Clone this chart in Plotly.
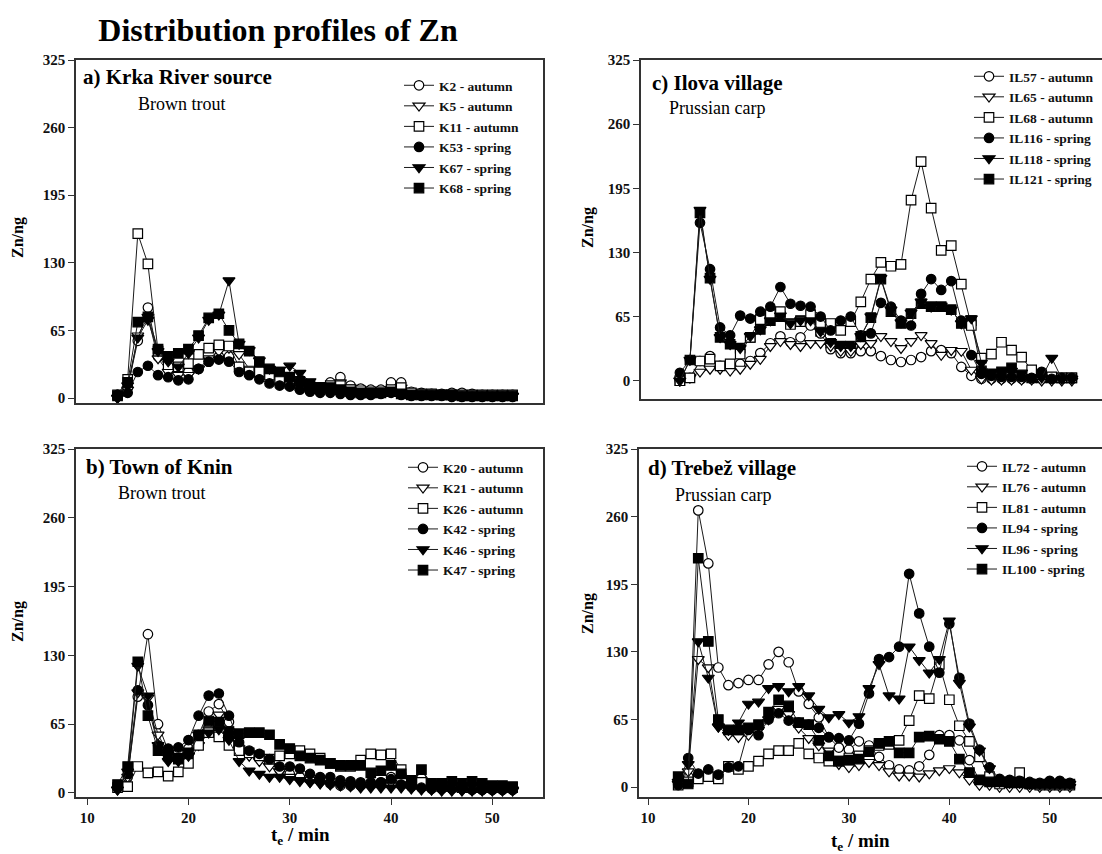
import plotly.graph_objects as go

W, H = 1102, 854
FONT = "Liberation Serif"

# ---------------- data ----------------
te_min = [13, 14, 15, 16, 17, 18, 19, 20, 21, 22, 23, 24, 25, 26, 27, 28, 29, 30, 31, 32,
          33, 34, 35, 36, 37, 38, 39, 40, 41, 42, 43, 44, 45, 46, 47, 48, 49, 50, 51, 52]
y_ticks = [0, 65, 130, 195, 260, 325]
x_ticks = [10, 20, 30, 40, 50]

# a) Krka River source - Brown trout
K2_autumn = [3, 10, 55, 87, 40, 28, 25, 25, 28, 35, 40, 40, 30, 25, 25, 22, 18, 15, 12, 10,
             10, 15, 20, 12, 9, 8, 8, 15, 15, 6, 5, 4, 4, 5, 5, 4, 3, 3, 3, 3]
K5_autumn = [0, 8, 60, 78, 38, 25, 22, 22, 28, 38, 45, 48, 42, 28, 25, 25, 20, 15, 12, 10,
             10, 12, 15, 10, 8, 6, 6, 8, 10, 5, 4, 3, 3, 3, 3, 3, 2, 2, 2, 2]
K11_autumn = [3, 18, 158, 129, 45, 32, 30, 33, 42, 48, 51, 50, 30, 25, 25, 22, 18, 14, 12, 10,
              10, 12, 12, 8, 7, 6, 6, 8, 10, 5, 4, 4, 3, 3, 3, 3, 3, 3, 3, 3]
K53_spring = [3, 5, 25, 31, 22, 20, 17, 18, 28, 35, 37, 35, 25, 22, 18, 14, 12, 11, 8, 6,
              5, 5, 4, 3, 3, 3, 4, 5, 3, 2, 2, 2, 2, 1, 1, 1, 1, 1, 1, 1]
K67_spring = [0, 12, 58, 75, 45, 35, 30, 43, 58, 75, 80, 113, 52, 46, 36, 28, 27, 31, 24, 16,
              12, 10, 8, 7, 6, 6, 6, 6, 5, 4, 3, 3, 3, 2, 2, 2, 2, 2, 2, 2]
K68_spring = [2, 15, 73, 78, 47, 40, 43, 47, 60, 77, 81, 65, 52, 45, 35, 28, 25, 20, 16, 12,
              10, 10, 8, 6, 5, 5, 5, 6, 4, 3, 3, 3, 3, 3, 2, 2, 2, 2, 2, 2]

# b) Town of Knin - Brown trout
K20_autumn = [5, 15, 91, 150, 65, 40, 38, 42, 55, 77, 84, 67, 45, 38, 33, 28, 22, 18, 15, 13,
              11, 9, 7, 7, 7, 8, 10, 15, 18, 12, 14, 5, 4, 4, 4, 4, 3, 3, 3, 3]
K21_autumn = [3, 15, 95, 90, 55, 38, 35, 35, 45, 60, 74, 55, 42, 35, 30, 25, 20, 15, 12, 10,
              9, 8, 7, 7, 7, 7, 8, 10, 8, 5, 4, 3, 3, 3, 3, 3, 3, 3, 3, 3]
K26_autumn = [5, 6, 25, 19, 20, 16, 20, 28, 45, 57, 53, 45, 40, 38, 35, 32, 35, 37, 40, 37,
              33, 28, 25, 25, 31, 37, 36, 37, 22, 12, 10, 7, 6, 6, 5, 5, 5, 5, 5, 5]
K42_spring = [5, 18, 97, 83, 45, 42, 43, 50, 73, 92, 94, 73, 48, 40, 37, 32, 25, 25, 23, 18,
              15, 15, 12, 11, 10, 10, 10, 13, 8, 6, 5, 4, 4, 4, 4, 3, 3, 3, 3, 3]
K46_spring = [3, 20, 120, 92, 45, 30, 30, 35, 55, 57, 60, 50, 30, 21, 18, 15, 15, 13, 11, 10,
              9, 8, 7, 6, 5, 5, 5, 5, 5, 4, 3, 3, 2, 2, 2, 2, 2, 2, 2, 2]
K47_spring = [8, 25, 124, 73, 40, 35, 32, 38, 55, 68, 67, 58, 56, 57, 57, 55, 46, 42, 35, 33,
              31, 28, 26, 26, 26, 19, 21, 26, 18, 12, 22, 9, 9, 11, 9, 11, 9, 7, 7, 6]

# c) Ilova village - Prussian carp
IL57_autumn = [0, 3, 20, 25, 15, 15, 17, 20, 28, 38, 45, 39, 44, 56, 48, 32, 28, 28, 30, 30,
               25, 21, 19, 21, 24, 30, 31, 28, 14, 5, 2, 2, 2, 2, 2, 2, 2, 2, 2, 2]
IL65_autumn = [0, 3, 9, 12, 12, 10, 12, 17, 22, 35, 40, 37, 35, 38, 38, 35, 30, 30, 37, 38,
               45, 40, 33, 40, 46, 38, 26, 31, 30, 11, 2, 1, 1, 1, 1, 1, 0, 0, 0, 0]
IL68_autumn = [0, 3, 20, 22, 15, 17, 27, 44, 62, 67, 70, 57, 60, 67, 59, 58, 51, 60, 80, 103,
               120, 116, 118, 183, 222, 175, 132, 137, 98, 56, 23, 27, 39, 31, 24, 11, 6, 4, 3, 3]
IL116_spring = [8, 21, 160, 113, 54, 46, 66, 63, 70, 75, 95, 78, 76, 75, 65, 51, 61, 65, 46, 48,
                79, 75, 61, 56, 88, 103, 92, 101, 61, 26, 7, 5, 4, 4, 4, 3, 9, 2, 3, 3]
IL118_spring = [0, 21, 173, 103, 44, 37, 33, 45, 52, 61, 66, 58, 61, 61, 50, 39, 35, 35, 45, 65,
                104, 72, 59, 69, 80, 75, 76, 72, 58, 63, 18, 8, 8, 10, 8, 3, 3, 23, 2, 2]
IL121_spring = [0, 21, 170, 104, 44, 37, 33, 44, 52, 61, 65, 58, 61, 60, 50, 38, 35, 35, 45, 64,
                103, 70, 58, 68, 78, 75, 75, 72, 58, 61, 10, 7, 9, 13, 5, 3, 3, 3, 3, 3]

# d) Trebež village - Prussian carp
IL72_autumn = [3, 10, 266, 215, 115, 98, 100, 103, 103, 118, 130, 120, 92, 80, 67, 48, 38, 36, 44, 40,
               29, 21, 17, 16, 20, 31, 50, 50, 45, 26, 6, 5, 3, 3, 3, 2, 2, 2, 2, 2]
IL76_autumn = [3, 15, 123, 115, 58, 50, 48, 50, 55, 65, 75, 70, 57, 47, 40, 35, 22, 19, 21, 24,
               21, 15, 11, 11, 10, 13, 16, 18, 14, 7, 2, 2, 0, 0, 0, 0, 0, 0, 0, 0]
IL81_autumn = [2, 5, 8, 10, 8, 20, 17, 20, 25, 32, 35, 35, 42, 32, 28, 25, 25, 28, 30, 35,
               40, 41, 45, 64, 88, 85, 118, 84, 59, 44, 29, 10, 3, 5, 14, 3, 2, 2, 2, 2]
IL94_spring = [2, 28, 13, 17, 12, 19, 20, 55, 50, 65, 71, 64, 62, 60, 57, 48, 47, 45, 61, 90,
               123, 125, 135, 205, 167, 135, 110, 157, 105, 61, 36, 19, 8, 7, 6, 5, 4, 6, 6, 4]
IL96_spring = [5, 22, 140, 105, 58, 55, 62, 80, 82, 95, 97, 92, 97, 88, 75, 67, 70, 62, 68, 95,
               118, 88, 85, 135, 122, 110, 123, 160, 100, 58, 35, 18, 5, 4, 4, 3, 3, 3, 3, 3]
IL100_spring = [10, 3, 220, 140, 65, 55, 55, 57, 60, 72, 84, 78, 62, 60, 45, 30, 25, 26, 27, 34,
                42, 44, 33, 33, 48, 49, 46, 44, 27, 14, 7, 5, 5, 4, 4, 3, 3, 3, 3, 3]

# ---------------- layout helpers ----------------
def fx(px):
    return px / W


def fy(py):
    return 1 - py / H


SYMBOLS = {"circle": "circle", "tri": "triangle-down", "square": "square"}

panels = [
    dict(xa="x", ya="y", legend="legend", under=[],
         series=[("K2 - autumn", K2_autumn, "circle", False),
                 ("K5 - autumn", K5_autumn, "tri", False),
                 ("K11 - autumn", K11_autumn, "square", False),
                 ("K53 - spring", K53_spring, "circle", True),
                 ("K67 - spring", K67_spring, "tri", True),
                 ("K68 - spring", K68_spring, "square", True)]),
    dict(xa="x2", ya="y2", legend="legend2", under=[],
         series=[("K20 - autumn", K20_autumn, "circle", False),
                 ("K21 - autumn", K21_autumn, "tri", False),
                 ("K26 - autumn", K26_autumn, "square", False),
                 ("K42 - spring", K42_spring, "circle", True),
                 ("K46 - spring", K46_spring, "tri", True),
                 ("K47 - spring", K47_spring, "square", True)]),
    dict(xa="x3", ya="y3", legend="legend3", under=["IL121 - spring"],
         series=[("IL57 - autumn", IL57_autumn, "circle", False),
                 ("IL65 - autumn", IL65_autumn, "tri", False),
                 ("IL68 - autumn", IL68_autumn, "square", False),
                 ("IL116 - spring", IL116_spring, "circle", True),
                 ("IL118 - spring", IL118_spring, "tri", True),
                 ("IL121 - spring", IL121_spring, "square", True)]),
    dict(xa="x4", ya="y4", legend="legend4", under=[],
         series=[("IL72 - autumn", IL72_autumn, "circle", False),
                 ("IL76 - autumn", IL76_autumn, "tri", False),
                 ("IL81 - autumn", IL81_autumn, "square", False),
                 ("IL94 - spring", IL94_spring, "circle", True),
                 ("IL96 - spring", IL96_spring, "tri", True),
                 ("IL100 - spring", IL100_spring, "square", True)]),
]

fig = go.Figure()
for p in panels:
    ranked = list(enumerate(p["series"], start=1))
    # series listed in "under" are drawn first so that they sit below the others
    ranked.sort(key=lambda r: 0 if r[1][0] in p["under"] else 1)
    for rank, (name, vals, sym, filled) in ranked:
        fig.add_trace(go.Scatter(
            x=te_min, y=vals, name=name, mode="lines+markers",
            xaxis=p["xa"], yaxis=p["ya"], legend=p["legend"], legendrank=rank,
            line=dict(color="#1a1a1a", width=1),
            marker=dict(symbol=SYMBOLS[sym], size=9.5 if sym != "tri" else 10.5,
                        color="#000000" if filled else "#ffffff",
                        line=dict(color="#000000", width=1.2)),
        ))

tickfont = dict(family=FONT, size=15, color="#111111", weight="bold")
axis_common = dict(showgrid=False, zeroline=False, showline=True, linecolor="#333333",
                   linewidth=1.5)


def yaxis(top, bottom, lo, mirror=True):
    return dict(domain=[fy(bottom), fy(top)], range=[lo, 325], tickvals=y_ticks,
                ticks="outside", ticklen=6, tickwidth=1.2, tickcolor="#333333",
                tickfont=tickfont, mirror=mirror, **axis_common)


def xaxis(left, right, lo, hi, labels):
    d = dict(domain=[fx(left), fx(right)], range=[lo, hi], mirror=True, **axis_common)
    if labels:
        d.update(tickvals=x_ticks, ticks="outside", ticklen=6, tickwidth=1.2,
                 tickcolor="#333333", tickfont=dict(family=FONT, size=15, color="#111111",
                                                    weight="bold"))
    else:
        d.update(showticklabels=False, ticks="")
    return d


fig.update_layout(
    width=W, height=H, margin=dict(l=0, r=0, t=0, b=0),
    paper_bgcolor="white", plot_bgcolor="white",
    template="none",
    showlegend=True,
    title=dict(text="<b>Distribution profiles of Zn</b>", x=fx(278), xanchor="center",
               y=fy(30), yanchor="middle", xref="paper", yref="paper",
               font=dict(family=FONT, size=32, color="#000000")),
    xaxis=xaxis(76, 543, 8.9, 55.0, False) | dict(anchor="y"),
    yaxis=yaxis(60, 403, -4.8) | dict(anchor="x"),
    xaxis2=xaxis(76, 543, 8.9, 55.0, True) | dict(anchor="y2"),
    yaxis2=yaxis(449, 797, -3.8) | dict(anchor="x2"),
    xaxis3=xaxis(641, 1102, 9.13, 55.0, False) | dict(anchor="y3"),
    yaxis3=yaxis(60, 399, -18.5, mirror=False) | dict(anchor="x3"),
    xaxis4=xaxis(639, 1102, 9.1, 55.2, True) | dict(anchor="y4"),
    yaxis4=yaxis(449, 797, -9.5, mirror=False) | dict(anchor="x4"),
)


def legend_at(left, top):
    return dict(x=fx(left), y=fy(top), xanchor="left", yanchor="top", xref="paper",
                yref="paper", bgcolor="rgba(0,0,0,0)", borderwidth=0, tracegroupgap=0,
                font=dict(family=FONT, size=13.5, color="#111111", weight="bold"))


fig.update_layout(legend=legend_at(399, 70), legend2=legend_at(403, 452),
                  legend3=legend_at(969, 61), legend4=legend_at(962, 451))

ann = []


def text(x, y, s, size, bold=True, xanchor="left", angle=0):
    ann.append(dict(x=fx(x), y=fy(y), xref="paper", yref="paper", text=s, showarrow=False,
                    xanchor=xanchor, yanchor="middle", textangle=angle,
                    font=dict(family=FONT, size=size, color="#000000",
                              weight="bold" if bold else "normal")))


text(81, 77, "a) Krka River source", 21)
text(136, 104, "Brown trout", 18, bold=False)
text(84, 467, "b) Town of Knin", 21)
text(116, 493, "Brown trout", 18, bold=False)
text(650, 83, "c) Ilova village", 21)
text(667, 108, "Prussian carp", 18, bold=False)
text(646, 468, "d) Trebež village", 21)
text(673, 495, "Prussian carp", 18, bold=False)

for x, y in [(18, 238), (18, 622), (588, 228), (588, 614)]:
    text(x, y, "Zn/ng", 16, xanchor="center", angle=-90)
text(300, 836, "t<sub>e</sub> / min", 19, xanchor="center")
text(860, 842, "t<sub>e</sub> / min", 19, xanchor="center")

fig.update_layout(annotations=ann)
fig.write_html("out.html")
